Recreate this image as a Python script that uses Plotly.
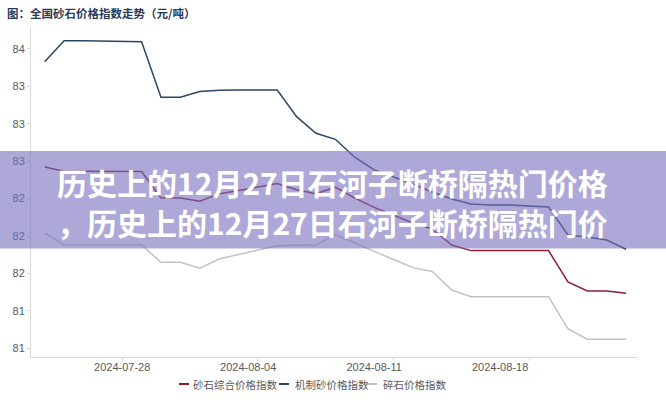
import plotly.graph_objects as go
import datetime as dt

# ---- data -------------------------------------------------------------
start = dt.date(2024, 7, 24)
dates = [(start + dt.timedelta(days=i)).isoformat() for i in range(31)]

composite = [82.601, 82.557, 82.557, 82.556, 82.555, 82.555, 82.286, 82.286,
             82.254, 82.328, 82.362, 82.396, 82.432, 82.370, 82.330, 82.396,
             82.285, 82.191, 82.112, 82.033, 81.972, 81.809, 81.752, 81.752,
             81.752, 81.752, 81.752, 81.434, 81.342, 81.342, 81.319]
machine_sand = [83.670, 83.883, 83.882, 83.880, 83.878, 83.873, 83.309, 83.309,
                83.368, 83.380, 83.383, 83.383, 83.383, 83.112, 82.943, 82.882,
                82.700, 82.571, 82.500, 82.428, 82.347, 82.276, 82.225, 82.215,
                82.215, 82.205, 82.195, 81.911, 81.890, 81.860, 81.766]
crushed_stone = [81.931, 81.809, 81.809, 81.809, 81.809, 81.809, 81.634, 81.634,
                 81.573, 81.667, 81.712, 81.756, 81.802, 81.806, 81.809, 81.916,
                 81.827, 81.744, 81.662, 81.579, 81.540, 81.352, 81.284, 81.284,
                 81.284, 81.284, 81.284, 80.960, 80.852, 80.852, 80.852]

series_names = ["砂石综合价格指数", "机制砂价格指数", "碎石价格指数"]
series_colors = ["#8b1f2e", "#2c4666", "#c3c3c3"]

x_tick_labels = ["2024-07-28", "2024-08-04", "2024-08-11", "2024-08-18"]
x_label_pos = [4, 10.5, 17, 23.5]
x_tick_marks = [4, 11, 18, 25]
y_tick_vals = [83.8, 83.42, 83.04, 82.66, 82.28, 81.90, 81.52, 81.14, 80.76]
y_tick_text = ["84", "83", "83", "83", "82", "82", "82", "81", "81"]

title_text = "图：全国砂石价格指数走势（元/吨）"
banner_lines = ["历史上的12月27日石河子断桥隔热门价格",
                "，历史上的12月27日石河子断桥隔热门价"]

# ---- figure -----------------------------------------------------------
W, H = 666, 400
L, R, T, B = 31, 28, 27, 43
pw, ph = W - L - R, H - T - B

def px_x(px):
    return (px - L) / pw

def px_y(py):
    return (H - B - py) / ph

xs = list(range(len(dates)))
fig = go.Figure()
for name, vals, col in zip(series_names, [composite, machine_sand, crushed_stone], series_colors):
    fig.add_trace(go.Scatter(x=xs, y=vals, mode="lines", name=name,
                             line=dict(color=col, width=1.5), customdata=dates,
                             showlegend=False))

# invisible trace for the secondary axis that carries the tick marks
fig.add_trace(go.Scatter(x=[xs[0]], y=[composite[0]], xaxis="x2", mode="markers",
                         marker=dict(opacity=0), showlegend=False, hoverinfo="skip"))

axis_grey = "#d9d9d9"
label_font = dict(family="Liberation Sans, Arial, sans-serif", size=11, color="#595959")

fig.update_layout(
    width=W, height=H,
    margin=dict(l=L, r=R, t=T, b=B, pad=0),
    paper_bgcolor="white", plot_bgcolor="white",
    title=dict(text="<b>" + title_text + "</b>", x=7 / W, xanchor="left",
               y=1 - 14 / H, yanchor="middle",
               font=dict(family="Noto Sans CJK SC", size=11.5, color="#2b3a55")),
    xaxis=dict(range=[-0.707, 30.615], showgrid=False, zeroline=False,
               showline=True, linecolor=axis_grey, linewidth=1,
               tickmode="array", tickvals=x_label_pos, ticktext=x_tick_labels,
               ticks="", tickfont=label_font),
    xaxis2=dict(range=[-0.707, 30.615], overlaying="x", side="bottom",
                showgrid=False, zeroline=False, showline=False,
                tickmode="array", tickvals=x_tick_marks, ticks="outside",
                ticklen=3, tickcolor=axis_grey, showticklabels=False),
    yaxis=dict(range=[80.672, 84.022], showgrid=False, zeroline=False,
               showline=True, linecolor=axis_grey, linewidth=1,
               tickmode="array", tickvals=y_tick_vals, ticktext=y_tick_text,
               ticks="outside", ticklen=3, tickcolor=axis_grey,
               tickfont=label_font),
)

# ---- legend (custom, short dashes) -------------------------------------
legend_items = [(179, 191), (279, 293), (367, 381)]
leg_y = 384
for (dash_x, text_x), name, col in zip(legend_items, series_names, series_colors):
    fig.add_shape(type="line", xref="paper", yref="paper",
                  x0=px_x(dash_x), x1=px_x(dash_x + 10), y0=px_y(leg_y), y1=px_y(leg_y),
                  line=dict(color=col, width=2))
    fig.add_annotation(text=name, xref="paper", yref="paper", x=px_x(text_x), y=px_y(leg_y),
                       xanchor="left", yanchor="middle", showarrow=False,
                       font=dict(family="Noto Sans CJK SC", size=10.5, color="#595959"))

# ---- banner overlay ----------------------------------------------------
fig.add_shape(type="rect", xref="paper", yref="paper", layer="above",
              x0=px_x(0), x1=px_x(W), y0=px_y(248.5), y1=px_y(151),
              fillcolor="rgba(120,110,192,0.6)", line=dict(width=0))
for text, cy in zip(banner_lines, [182, 222]):
    fig.add_annotation(text="<b>" + text + "</b>", xref="paper", yref="paper",
                       x=px_x(332), y=px_y(cy), xanchor="center", yanchor="middle",
                       showarrow=False,
                       font=dict(family="Noto Sans CJK SC", size=30, color="white"))

fig.write_html("out.html", config={"displayModeBar": False},
               post_script="document.body.style.margin='0';")
